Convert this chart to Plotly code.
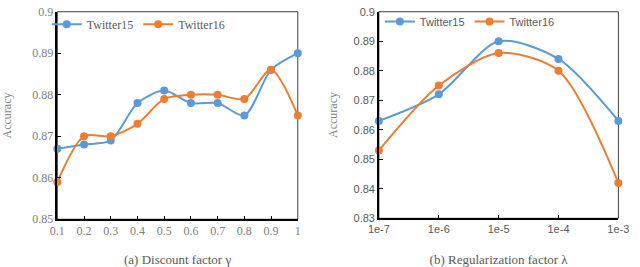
import plotly.graph_objects as go

# ---- data ----
gamma = [0.1, 0.2, 0.3, 0.4, 0.5, 0.6, 0.7, 0.8, 0.9, 1.0]
gamma_ticks = ["0.1", "0.2", "0.3", "0.4", "0.5", "0.6", "0.7", "0.8", "0.9", "1"]
t15_gamma = [0.867, 0.868, 0.869, 0.878, 0.881, 0.878, 0.878, 0.875, 0.886, 0.890]
t16_gamma = [0.859, 0.870, 0.870, 0.873, 0.879, 0.880, 0.880, 0.879, 0.886, 0.875]

lam = ["1e-7", "1e-6", "1e-5", "1e-4", "1e-3"]
t15_lam = [0.863, 0.872, 0.890, 0.884, 0.863]
t16_lam = [0.853, 0.875, 0.886, 0.880, 0.842]

left_yticks = [0.85, 0.86, 0.87, 0.88, 0.89, 0.9]
left_yticktext = ["0.85", "0.86", "0.87", "0.88", "0.89", "0.9"]
right_yticks = [0.83, 0.84, 0.85, 0.86, 0.87, 0.88, 0.89, 0.9]
right_yticktext = ["0.83", "0.84", "0.85", "0.86", "0.87", "0.88", "0.89", "0.9"]

BLUE = "#5B9BD5"
ORANGE = "#ED7D31"
SERIF = "Liberation Serif"
SANS = "Liberation Sans"

W, H = 640, 267
def px_x(p): return p / W
def px_y(p): return 1 - p / H

fig = go.Figure()

def add(x, y, name, color, xa, ya, leg):
    fig.add_trace(go.Scatter(
        x=x, y=y, name=name, mode="lines+markers",
        line=dict(color=color, width=2, shape="spline", smoothing=0.8),
        marker=dict(color=color, size=8),
        xaxis=xa, yaxis=ya, legend=leg, cliponaxis=False))

add(gamma, t15_gamma, "Twitter15", BLUE, "x", "y", "legend")
add(gamma, t16_gamma, "Twitter16", ORANGE, "x", "y", "legend")
add(lam, t15_lam, "Twitter15", BLUE, "x2", "y2", "legend2")
add(lam, t16_lam, "Twitter16", ORANGE, "x2", "y2", "legend2")

L = dict(x0=48, x1=297, y0=5, y1=224)
R = dict(x0=381, x1=629, y0=5, y1=223)

axis_common = dict(showgrid=False, zeroline=False, showline=True, linecolor="#000000",
                   linewidth=1.5, ticks="inside", ticklen=4, tickcolor="#000000", tickwidth=1,
                   ticklabeloverflow="allow")

EPS = 1e-6
fig.update_layout(
    width=W, height=H, margin=dict(l=0, r=0, t=0, b=0),
    paper_bgcolor="white", plot_bgcolor="white",
    showlegend=True,
    xaxis=dict(domain=[px_x(L["x0"]), px_x(L["x1"])], range=[0.1, 1.0],
               tickvals=gamma, ticktext=gamma_ticks,
               tickfont=dict(family=SERIF, size=12, color="#808080"),
               title=dict(text="(a) Discount factor γ", font=dict(family=SERIF, size=13, color="#595959"), standoff=18),
               anchor="y", **axis_common),
    yaxis=dict(domain=[px_y(L["y1"]), px_y(L["y0"])], range=[0.85, 0.9 + EPS],
               tickvals=left_yticks, ticktext=left_yticktext,
               tickfont=dict(family=SERIF, size=12, color="#808080"),
               title=dict(text="Accuracy", font=dict(family=SERIF, size=12, color="#808080"), standoff=18),
               anchor="x", **axis_common),
    xaxis2=dict(domain=[px_x(R["x0"]), px_x(R["x1"])], type="category", range=[0, 4],
                tickfont=dict(family=SANS, size=11, color="#595959"),
                title=dict(text="(b) Regularization factor λ", font=dict(family=SERIF, size=13, color="#595959"), standoff=21),
                anchor="y2", **axis_common),
    yaxis2=dict(domain=[px_y(R["y1"]), px_y(R["y0"])], range=[0.83, 0.9 + EPS],
                tickvals=right_yticks, ticktext=right_yticktext,
                tickfont=dict(family=SANS, size=11, color="#595959"),
                title=dict(text="Accuracy", font=dict(family=SERIF, size=12, color="#808080"), standoff=13),
                anchor="x2", **axis_common),
    legend=dict(orientation="h", x=px_x(37), xanchor="left", y=px_y(3), yanchor="top",
                font=dict(family=SERIF, size=12, color="#595959"), bgcolor="rgba(0,0,0,0)",
                itemwidth=30, tracegroupgap=0),
    legend2=dict(orientation="h", x=px_x(382), xanchor="left", y=px_y(0), yanchor="top",
                 font=dict(family=SANS, size=11, color="#595959"), bgcolor="rgba(0,0,0,0)",
                 itemwidth=30, tracegroupgap=0),
    shapes=[
        dict(type="rect", xref="paper", yref="paper",
             x0=px_x(L["x0"]), x1=px_x(L["x1"]), y0=px_y(L["y1"]), y1=px_y(L["y0"]),
             line=dict(color="#404040", width=1), layer="below"),
        dict(type="rect", xref="paper", yref="paper",
             x0=px_x(R["x0"]), x1=px_x(R["x1"]), y0=px_y(R["y1"]), y1=px_y(R["y0"]),
             line=dict(color="#404040", width=1), layer="below"),
    ],
)

fig.write_html("out.html", config={"displayModeBar": False},
               post_script="document.body.style.margin='0';")
